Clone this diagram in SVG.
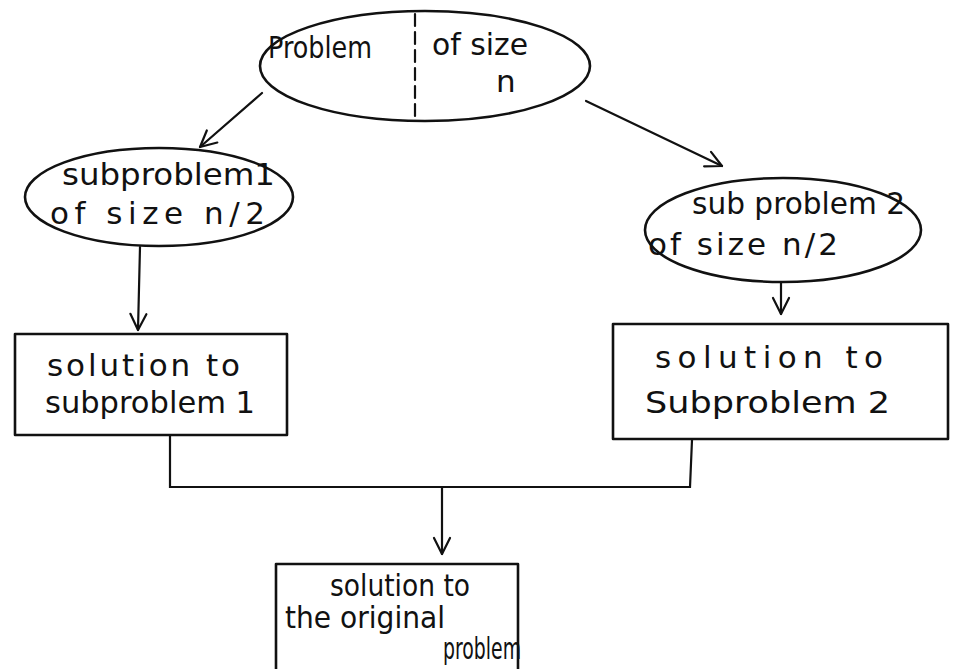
<svg xmlns="http://www.w3.org/2000/svg" width="954" height="669" viewBox="0 0 954 669">
  <style>
    .shape { fill: none; stroke: #111; stroke-width: 2.6; stroke-linejoin: round; stroke-linecap: round; }
    .wire { fill: none; stroke: #111; stroke-width: 2.2; stroke-linecap: round; }
    .label { font-family: "DejaVu Sans", "Liberation Sans", sans-serif; font-size: 31px; fill: #111; }
  </style>
  <defs>
    <marker id="open-arrow" viewBox="0 0 20 20" refX="18" refY="10" markerWidth="20" markerHeight="20" markerUnits="userSpaceOnUse" orient="auto">
      <path d="M2,2 L18,10 L2,18" fill="none" stroke="#111" stroke-width="2.2" stroke-linecap="round" stroke-linejoin="round"/>
    </marker>
  </defs>
  <rect width="954" height="669" fill="#ffffff"/>

  <!-- root problem -->
  <g id="problem">
    <ellipse class="shape" cx="425" cy="66" rx="165" ry="55"/>
    <line class="wire" x1="415" y1="14" x2="415" y2="120" stroke-dasharray="12 6"/>
    <text class="label" x="268" y="58" font-size="26" textLength="104" lengthAdjust="spacingAndGlyphs">Problem</text>
    <text class="label" x="432" y="55" font-size="28" textLength="96" lengthAdjust="spacingAndGlyphs">of size</text>
    <text class="label" x="496" y="92" font-size="22">n</text>
  </g>

  <!-- first half -->
  <g id="subproblem1">
    <ellipse class="shape" cx="159" cy="197" rx="134" ry="49"/>
    <text class="label" x="62" y="185" textLength="213" lengthAdjust="spacingAndGlyphs">subproblem1</text>
    <text class="label" x="50" y="224" textLength="215" lengthAdjust="spacing">of size n/2</text>
  </g>

  <!-- second half -->
  <g id="subproblem2">
    <ellipse class="shape" cx="783" cy="230" rx="138" ry="52"/>
    <text class="label" x="692" y="214" font-size="29" textLength="213" lengthAdjust="spacingAndGlyphs">sub problem 2</text>
    <text class="label" x="648" y="255" font-size="30" textLength="190" lengthAdjust="spacing">of size n/2</text>
  </g>

  <!-- partial solutions -->
  <g id="solution1">
    <rect class="shape" x="15" y="334" width="272" height="101"/>
    <text class="label" x="47" y="376" font-size="33" textLength="193" lengthAdjust="spacing">solution to</text>
    <text class="label" x="45" y="413" font-size="31" textLength="210" lengthAdjust="spacingAndGlyphs">subproblem 1</text>
  </g>

  <g id="solution2">
    <rect class="shape" x="613" y="324" width="335" height="115"/>
    <text class="label" x="655" y="368" font-size="35" textLength="228" lengthAdjust="spacing">solution to</text>
    <text class="label" x="645" y="413" font-size="35" textLength="245" lengthAdjust="spacingAndGlyphs">Subproblem 2</text>
  </g>

  <!-- combined result -->
  <g id="solution">
    <rect class="shape" x="276" y="564" width="242" height="118"/>
    <text class="label" x="330" y="596" font-size="27" textLength="140" lengthAdjust="spacingAndGlyphs">solution to</text>
    <text class="label" x="285" y="628" font-size="28" textLength="160" lengthAdjust="spacingAndGlyphs">the original</text>
    <text class="label" x="443" y="659" font-size="24" textLength="78" lengthAdjust="spacingAndGlyphs">problem</text>
  </g>

  <!-- connectors -->
  <g id="connectors">
    <line class="wire" x1="262" y1="93" x2="200" y2="147" marker-end="url(#open-arrow)"/>
    <line class="wire" x1="586" y1="101" x2="722" y2="166" marker-end="url(#open-arrow)"/>
    <line class="wire" x1="140" y1="247" x2="138" y2="330" marker-end="url(#open-arrow)"/>
    <line class="wire" x1="781" y1="283" x2="781" y2="314" marker-end="url(#open-arrow)"/>
    <polyline class="wire" points="170,436 170,487 690,487 692,440"/>
    <line class="wire" x1="442" y1="487" x2="442" y2="554" marker-end="url(#open-arrow)"/>
  </g>
</svg>
